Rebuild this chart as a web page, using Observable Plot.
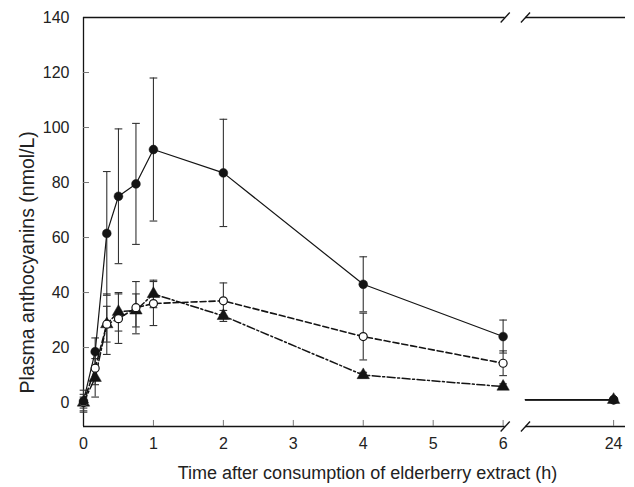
<!DOCTYPE html>
<html>
<head>
<meta charset="utf-8">
<script src="https://cdn.jsdelivr.net/npm/d3@7"></script>
<script src="https://cdn.jsdelivr.net/npm/@observablehq/plot@0.6"></script>
<style>
  html, body { margin: 0; padding: 0; background: #fff; }
  #chart { width: 634px; height: 487px; }
</style>
</head>
<body>
<div id="chart"></div>
<script>
// ---- data ----
const times = [0, 0.167, 0.333, 0.5, 0.75, 1, 2, 4, 6, 24];
const seriesA = [0.5, 18.5, 61.5, 75, 79.5, 92, 83.5, 43, 24, 1];
const errA    = [4, 5, 22.5, 24.5, 22, 26, 19.5, 10, 6, 0];
const seriesB = [0, 12.5, 28.5, 30.5, 34.5, 36, 37, 24, 14.3, 1];
const errB    = [3, 6, 6.5, 9, 9.5, 8, 6.5, 8.5, 4.5, 0];
const seriesC = [0, 9, 28.5, 33, 33.5, 39.5, 31.5, 10, 5.8, 1];
const errC    = [2, 7, 11, 7, 6, 5, 2, 1, 1, 0];
const xTickValues = [0, 1, 2, 3, 4, 5, 6, 24];
const yTickValues = [0, 20, 40, 60, 80, 100, 120, 140];
const xLabel = "Time after consumption of elderberry extract (h)";
const yLabel = "Plasma anthocyanins (nmol/L)";

// ---- broken x-axis mapping ----
const breakLo = 6.03, breakHi = 6.32, pos24 = 7.58, xMax = 7.75;
const yMin = -8.7, yMax = 140;
const toPos = t => (t <= 6 ? t : pos24);

function rows(vals, errs, key) {
  return times.map((t, i) => ({t, pos: toPos(t), v: vals[i], e: errs[i], key}));
}
const A = rows(seriesA, errA, "A");
const B = rows(seriesB, errB, "B");
const C = rows(seriesC, errC, "C");
const all = [...C, ...B, ...A];
const early = d => d.t <= 6;
const late = arr => { const d = arr.find(r => r.t === 24); return [{...d, pos: breakHi}, d]; };

const capHalf = 0.055; // half cap width in x units
const ink = "#141414";
const tickLenX = 6 / 2.75;   // in y units
const tickLenY = 6 / 69.95;  // in x units

const errRows = all.filter(d => d.e > 0);

const chart = Plot.plot({
  width: 634,
  height: 487,
  marginLeft: 83,
  marginRight: 9,
  marginTop: 17,
  marginBottom: 61,
  x: {domain: [0, xMax], axis: null},
  y: {domain: [yMin, yMax], axis: null},
  style: {fontFamily: "'Liberation Sans', Arial, Helvetica, sans-serif", background: "#fff", color: ink},
  marks: [
    // axis lines (broken)
    Plot.ruleY([yMin], {x1: 0, x2: breakLo, stroke: ink, strokeWidth: 1.3}),
    Plot.ruleY([yMin], {x1: breakHi, x2: xMax, stroke: ink, strokeWidth: 1.3}),
    Plot.ruleY([yMax], {x1: 0, x2: breakLo, stroke: ink, strokeWidth: 1.3}),
    Plot.ruleY([yMax], {x1: breakHi, x2: xMax, stroke: ink, strokeWidth: 1.3}),
    Plot.ruleX([0], {y1: yMin, y2: yMax, stroke: ink, strokeWidth: 1.3}),
    // break slashes
    Plot.link([breakLo, breakHi].flatMap(b => [{b, y: yMin}, {b, y: yMax}]), {
      x1: d => d.b - 0.065, x2: d => d.b + 0.065,
      y1: d => d.y - 1.8, y2: d => d.y + 1.8,
      stroke: ink, strokeWidth: 1.3
    }),
    // ticks (inward)
    Plot.ruleX(xTickValues.filter(t => t > 0), {x: toPos, y1: yMin, y2: yMin + tickLenX, stroke: "#777", strokeWidth: 1}),
    Plot.ruleY(yTickValues.filter(v => v < 140), {y: d => d, x1: 0, x2: tickLenY, stroke: "#777", strokeWidth: 1}),
    // tick labels
    Plot.text(xTickValues, {x: toPos, y: yMin, text: d => String(d), dy: 17, fontSize: 16, fill: "#222"}),
    Plot.text(yTickValues, {x: 0, y: d => d, text: d => String(d), dx: -14, textAnchor: "end", fontSize: 16, fill: "#222"}),
    // axis titles
    Plot.text([xLabel], {frameAnchor: "bottom", dx: 13, dy: 52, fontSize: 18, fill: "#222"}),
    Plot.text([yLabel], {x: 0, y: 51, rotate: -90, dx: -56, fontSize: 19.5, fill: "#222"}),
    // error bars
    Plot.ruleX(errRows, {x: "pos", y1: d => d.v - d.e, y2: d => d.v + d.e, stroke: "#333", strokeWidth: 1.1}),
    Plot.link(errRows.flatMap(d => [{...d, cy: d.v - d.e}, {...d, cy: d.v + d.e}]), {
      x1: d => d.pos - capHalf, x2: d => d.pos + capHalf, y1: "cy", y2: "cy", stroke: "#333", strokeWidth: 1.1
    }),
    // lines
    Plot.line(C.filter(early), {x: "pos", y: "v", stroke: ink, strokeWidth: 1.5, strokeDasharray: "8,2.5,2,2.5"}),
    Plot.line(B.filter(early), {x: "pos", y: "v", stroke: ink, strokeWidth: 1.6, strokeDasharray: "6,3"}),
    Plot.line(A.filter(early), {x: "pos", y: "v", stroke: ink, strokeWidth: 1.2}),
    Plot.line(late(C), {x: "pos", y: "v", stroke: ink, strokeWidth: 1.5}),
    Plot.line(late(B), {x: "pos", y: "v", stroke: ink, strokeWidth: 1.5}),
    Plot.line(late(A), {x: "pos", y: "v", stroke: ink, strokeWidth: 1.2}),
    // markers
    Plot.dot(C, {x: "pos", y: "v", symbol: "triangle", r: 4.6, fill: ink, stroke: ink, strokeWidth: 0.5}),
    Plot.dot(B, {x: "pos", y: "v", symbol: "circle", r: 4, fill: "#fff", stroke: ink, strokeWidth: 1.2}),
    Plot.dot(A, {x: "pos", y: "v", symbol: "circle", r: 4.4, fill: ink, stroke: ink, strokeWidth: 0.5})
  ]
});
document.getElementById("chart").appendChild(chart);
</script>
</body>
</html>
